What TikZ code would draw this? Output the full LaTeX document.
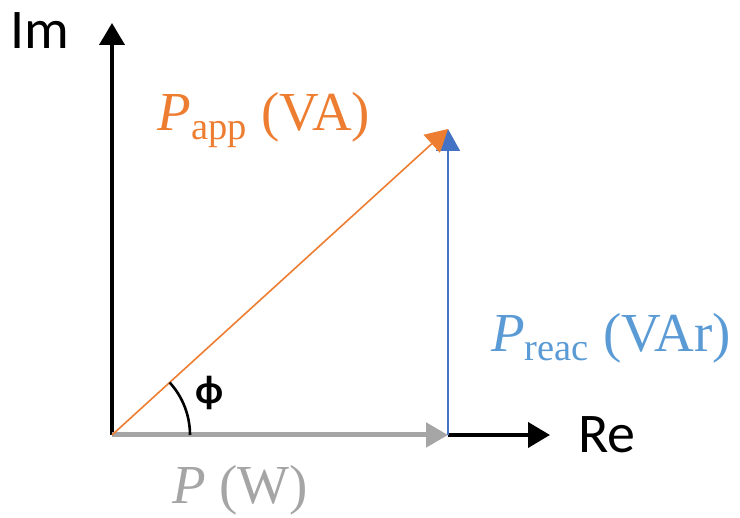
\documentclass[tikz,border=0pt]{standalone}
\usepackage{fontspec}
\setmainfont{Liberation Serif}
\newfontfamily\axisfont{Carlito}
\usepackage{tikz}
\usetikzlibrary{arrows.meta, positioning, calc}
\definecolor{apporange}{HTML}{ED7D31}
\definecolor{reacblue}{HTML}{4472C4}
\definecolor{reactext}{HTML}{5B9BD5}
\definecolor{realgray}{HTML}{A5A5A5}
\tikzset{
  axis/.style={line width=4pt, -{Triangle[width=25pt,length=22pt]}},
  phasor/.style={-{Triangle[width=24pt,length=22pt]}},
  axislabel/.style={font=\axisfont\fontsize{56}{60}\selectfont, inner sep=0pt},
  vlabel/.style={font=\fontsize{55}{60}\selectfont, inner sep=0pt}
}
\begin{document}
\begin{tikzpicture}[x=1pt, y=1pt]
    \useasboundingbox (0,0) rectangle (740,518);
    \coordinate (origin) at (112,83);
    \coordinate (imtop) at (112,495);
    \coordinate (corner) at (448,83);
    \coordinate (retip) at (550,83);
    \coordinate (apptip) at (448,389);
    \draw[axis] (origin) -- (imtop);
    \draw[axis] (corner) -- (retip);
    \draw[phasor, realgray, line width=5pt] (origin) -- (corner);
    \draw[phasor, reacblue, line width=1.6pt] (corner) -- (apptip);
    \draw[phasor, apporange, line width=1.6pt] (origin) -- (apptip);
    \draw[line width=2.6pt] ($(origin)+(78,0)$) arc[start angle=0, end angle=42.3, radius=78];
    \node[axislabel] (im) at (40,487) {Im};
    \node[axislabel] (re) at (607,83) {Re};
    \node[axislabel, font=\axisfont\fontsize{40}{44}\selectfont] (phi) at (210,125) {\textbf{ϕ}};
    \node[vlabel, apporange] (papp) at (264,398) {$\mathit{P}_{\mathrm{app}}$ (VA)};
    \node[vlabel, reactext] (preac) at (611,180) {$\mathit{P}_{\mathrm{reac}}$ (VAr)};
    \node[vlabel, realgray] (preal) at (240,28) {$\mathit{P}$ (W)};
\end{tikzpicture}
\end{document}
